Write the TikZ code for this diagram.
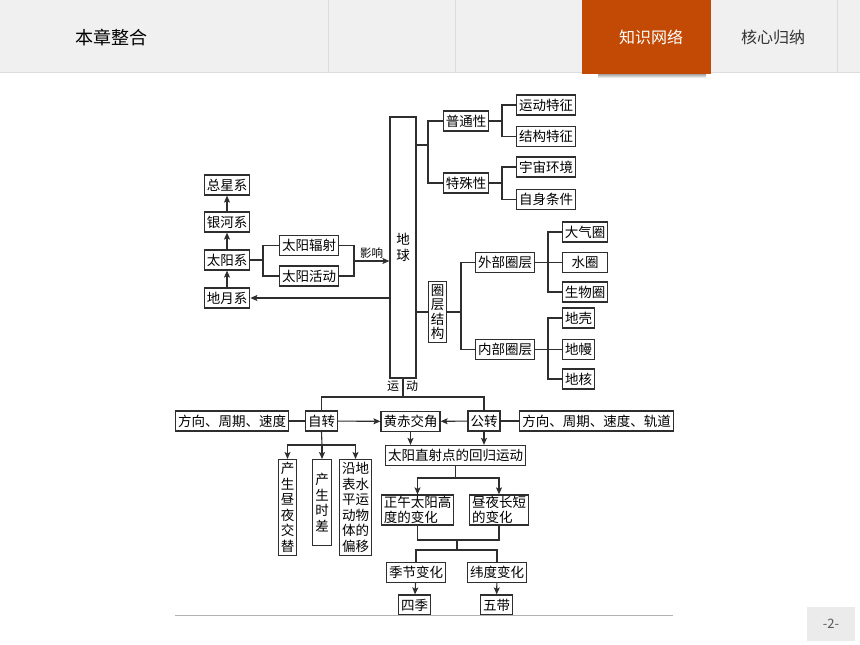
\documentclass[tikz,border=0pt]{standalone}
\usepackage{fontspec}
\setmainfont{Noto Sans CJK SC}
\usepackage{tikz}
\usetikzlibrary{arrows.meta, positioning}

\definecolor{hdrgray}{HTML}{F0F0F0}
\definecolor{sepgray}{HTML}{DCDCDC}
\definecolor{taborange}{HTML}{C24A05}
\definecolor{linec}{HTML}{2E2E2E}

\begin{document}
\begin{tikzpicture}[
    x=1pt, y=-1pt,
    box/.style={draw=linec, line width=1.2pt, fill=white, inner xsep=2.5pt, inner ysep=1pt,
        minimum height=20pt, font=\fontsize{13.5}{15.5}\selectfont},
    vbox/.style={box, align=center, inner ysep=3pt},
    link/.style={draw=linec, line width=1.1pt},
    arr/.style={link, -{Stealth[length=7pt, width=6pt, inset=1.5pt]}},
    >=Stealth
]
\useasboundingbox (0,0) rectangle (860,645);

% Header
\fill[hdrgray] (0,0) rectangle (860,72);
\draw[sepgray, line width=1pt] (0,72.5) -- (860,72.5);
\foreach \sx in {328,455,837}
    \draw[sepgray, line width=0.8pt] (\sx,0) -- (\sx,72);
\shade[top color=black!45, bottom color=white] (598,73) rectangle (706,78);
\fill[taborange] (582,0) rectangle (711,74);
\node[font=\fontsize{18}{20}\selectfont, anchor=west, inner sep=0pt] (title) at (75,38) {本章整合};
\node[font=\fontsize{16}{20}\selectfont, text=white] (tabA) at (651,37) {知识网络};
\node[font=\fontsize{16}{20}\selectfont, text=black!80] (tabB) at (773,37) {核心归纳};

% Earth
\node[draw=linec, line width=1.2pt, minimum width=26pt, minimum height=261pt, align=center,
    font=\fontsize{13.5}{15.5}\selectfont] (diqiu) at (403,247.5) {地\\球};
\node[font=\fontsize{12}{14}\selectfont, inner sep=0pt] (yun) at (393,386) {运};
\node[font=\fontsize{12}{14}\selectfont, inner sep=0pt] (dong) at (412,386) {动};

% Upper branch
\node[box] (putong) at (466,121) {普通性};
\node[box] (teshu) at (466,183) {特殊性};
\node[box] (ydtz) at (546,105) {运动特征};
\node[box, below=10pt of ydtz] (jgtz) {结构特征};
\node[box] (yzhj) at (546,167) {宇宙环境};
\node[box, below=11pt of yzhj] (zstj) {自身条件};

\draw[link] (diqiu.east |- 0,145) -- (428,145);
\draw[link] (putong.west) -| (428,145) |- (teshu.west);
\draw[link] (putong.east) -- (502,121);
\draw[link] (ydtz.west) -| (502,121) |- (jgtz.west);
\draw[link] (teshu.east) -- (502,183);
\draw[link] (yzhj.west) -| (502,183) |- (zstj.west);

% Layer structure
\node[vbox, font=\fontsize{13.5}{14.5}\selectfont] (quanceng) at (437.5,312) {圈\\层\\结\\构};
\node[box] (waibu) at (505,262.5) {外部圈层};
\node[box] (neibu) at (505,349.5) {内部圈层};
\node[box, minimum width=45pt] (daqi) at (585,232) {大气圈};
\node[box, minimum width=45pt] (shui) at (585,262.5) {水圈};
\node[box, minimum width=45pt] (shengwu) at (585,292) {生物圈};
\node[box, anchor=west] (diqiao) at (562,318) {地壳};
\node[box, anchor=west] (diman) at (562,349.5) {地幔};
\node[box, anchor=west] (dihe) at (562,379) {地核};

\draw[link] (diqiu.east |- quanceng) -- (quanceng.west);
\draw[link] (quanceng.east) -- (461,312);
\draw[link] (waibu.west) -| (461,312) |- (neibu.west);
\draw[link] (waibu.east) -- (shui.west);
\draw[link] (daqi.west) -| (548,262.5) |- (shengwu.west);
\draw[link] (neibu.east) -- (diman.west);
\draw[link] (diqiao.west) -| (548,349.5) |- (dihe.west);

% Left branch
\node[box] (zongxing) at (227,185) {总星系};
\node[box] (yinhe) at (227,222) {银河系};
\node[box] (taiyang) at (227,260) {太阳系};
\node[box] (diyue) at (227,298) {地月系};
\node[box] (fushe) at (309,245.5) {太阳辐射};
\node[box] (huodong) at (309,276) {太阳活动};

\draw[arr] (diyue) -- (taiyang);
\draw[arr] (taiyang) -- (yinhe);
\draw[arr] (yinhe) -- (zongxing);
\draw[link] (taiyang.east) -- (263,260);
\draw[link] (fushe.west) -| (263,260) |- (huodong.west);
\draw[link] (fushe.east) -| (354,261) |- (huodong.east);
\draw[arr] (354,261) -- (diqiu.west |- 0,261)
    node[midway, above=-1pt, font=\fontsize{11.5}{13}\selectfont] {影响};
\draw[arr] (diqiu.west |- diyue) -- (diyue.east);

% Motion
\node[box] (zizhuan) at (321.5,421) {自转};
\node[box] (fx1) at (232,421) {方向、周期、速度};
\node[box] (huangchi) at (410.5,421.5) {黄赤交角};
\node[box] (gongzhuan) at (484,421) {公转};
\node[box] (fx2) at (596.5,421) {方向、周期、速度、轨道};
\node[box] (zhishe) at (455.5,455.5) {太阳直射点的回归运动};

\draw[link] (diqiu.south) -- (403,397);
\draw[link] (zizhuan.north) |- (403,397) -| (gongzhuan.north);
\draw[link] (fx1) -- (zizhuan);
\draw[link] (gongzhuan) -- (fx2);
\draw[arr] (zizhuan) -- (huangchi);
\draw[arr] (gongzhuan) -- (huangchi);
\draw[arr] (huangchi.south) -- (huangchi.south |- zhishe.north);
\draw[arr] (gongzhuan.south) -- (gongzhuan.south |- zhishe.north);

% Rotation effects
\node[vbox, anchor=north] (zhouye) at (287.5,459) {产\\生\\昼\\夜\\交\\替};
\node[vbox, anchor=north, minimum height=86pt] (shicha) at (322,459) {产\\生\\时\\差};
\node[vbox, anchor=north] (pianyi) at (355.5,459) {沿地\\表水\\平运\\动物\\体的\\偏移};

\draw[link] (zizhuan.south) -- (322,445);
\draw[arr] (322,445) -| (zhouye.north);
\draw[arr] (322,445) -| (pianyi.north);
\draw[arr] (322,445) -- (shicha.north);

% Revolution effects
\node[box, align=left] (zhengwu) at (417.5,510) {正午太阳高\\度的变化};
\node[box, align=left] (changduan) at (499,510) {昼夜长短\\的变化};
\node[box] (jijie) at (416,572.5) {季节变化};
\node[box] (weidu) at (497,572.5) {纬度变化};
\node[box] (siji) at (414.5,605) {四季};
\node[box] (wudai) at (496.5,605) {五带};

\draw[link] (zhishe.south) -- (455.5,478);
\draw[arr] (455.5,478) -| (zhengwu.north);
\draw[arr] (455.5,478) -| (changduan.north);
\draw[link] (zhengwu.south) |- (457,540) -| (changduan.south);
\draw[link] (457,540) -- (457,550);
\draw[link] (jijie.north) |- (457,550) -| (weidu.north);
\draw[arr] (jijie) -- (siji);
\draw[arr] (weidu) -- (wudai);

% Footer
\draw[black!30, line width=1pt] (175,615.5) -- (673,615.5);
\fill[black!8] (807,607) rectangle (855,641);
\node[font=\fontsize{13}{15}\selectfont, text=black!65] (page) at (831,624) {-2-};

\end{tikzpicture}
\end{document}
